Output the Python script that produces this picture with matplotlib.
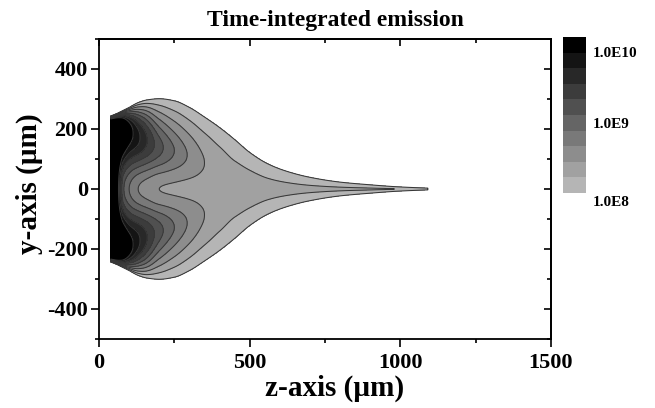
import numpy as np
import matplotlib
matplotlib.use("Agg")
import matplotlib.pyplot as plt
from matplotlib.colors import ListedColormap, BoundaryNorm
from matplotlib.ticker import MultipleLocator

plt.rcParams['font.family'] = ['Liberation Serif', 'DejaVu Serif']
plt.rcParams['font.weight'] = 'bold'
plt.rcParams['axes.unicode_minus'] = False

# ---- data (log10 of emission) ----
z_st = [38, 60, 70, 80, 100, 130, 160, 200, 250, 300, 350, 400, 450, 500,
        560, 620, 700, 800, 900, 980, 1040, 1092, 1130]
axis_log = [10.3, 10.0, 9.5, 9.05, 8.8, 8.6, 8.5, 8.4, 8.37, 8.35, 8.33, 8.30,
            8.27, 8.25, 8.228, 8.218, 8.211, 8.207, 8.204, 8.2, 8.12, 8.0, 7.85]
lobe_excess = [0.5, 0.6, 0.95, 1.25, 1.15, 1.05, 0.9, 0.68, 0.43, 0.22, 0.07,
               0.01, 0, 0, 0, 0, 0, 0, 0, 0, 0, 0, 0]
lobe_y = [205, 203, 200, 198, 190, 172, 160, 142, 128, 110, 85, 45, 0, 0,
          0, 0, 0, 0, 0, 0, 0, 0, 0]
edge_y = [243, 252, 257, 262, 272, 288, 297, 301, 294, 272, 240, 205, 165, 122,
          84, 60, 39, 23, 14, 8, 5, 3, 2]
edge_power = [3.0, 2.8, 2.7, 2.5, 2.2, 1.8, 1.5, 1.2, 1.1, 1.2, 1.4, 1.7, 2.0,
              2.0, 2.0, 2.0, 2.0, 2.0, 2.0, 2.0, 2.0, 2.0, 2.0]
left_edge = 38
levels = [8.0, 8.2, 8.4, 8.6, 8.8, 9.0, 9.2, 9.4, 9.6, 9.8]
cbar_labels = ['1.0E10', '1.0E9', '1.0E8']


def pchip(xs, ys, x):
    xs = np.asarray(xs, float)
    ys = np.asarray(ys, float)
    n = len(xs)
    h = np.diff(xs)
    d = np.diff(ys) / h
    m = np.zeros(n)
    m[0], m[-1] = d[0], d[-1]
    for k in range(1, n - 1):
        if d[k - 1] * d[k] <= 0:
            m[k] = 0.0
        else:
            w1 = 2 * h[k] + h[k - 1]
            w2 = h[k] + 2 * h[k - 1]
            m[k] = (w1 + w2) / (w1 / d[k - 1] + w2 / d[k])
    xc = np.clip(x, xs[0], xs[-1])
    i = np.clip(np.searchsorted(xs, xc) - 1, 0, n - 2)
    t = (xc - xs[i]) / h[i]
    h00 = 2 * t**3 - 3 * t**2 + 1
    h10 = t**3 - 2 * t**2 + t
    h01 = -2 * t**3 + 3 * t**2
    h11 = t**3 - t**2
    return h00 * ys[i] + h10 * h[i] * m[i] + h01 * ys[i + 1] + h11 * h[i] * m[i + 1]


z = np.linspace(0, 1200, 1201)
y = np.linspace(-340, 340, 681)
Z, Y = np.meshgrid(z, y)

a = pchip(z_st, axis_log, z)[None, :]
p = a + pchip(z_st, lobe_excess, z)[None, :]
yc = np.maximum(pchip(z_st, lobe_y, z), 1e-6)[None, :]
e = pchip(z_st, edge_y, z)[None, :]
nn = pchip(z_st, edge_power, z)[None, :]

ay = np.abs(Y)
inner = a + (p - a) * (1 - np.cos(np.pi * np.clip(ay / yc, 0, 1))) / 2
u = np.clip((ay - yc) / np.maximum(e - yc, 1e-6), 0, None)
dd = 0.15
s = ((np.sqrt(u**2 + dd**2) - dd) / (np.sqrt(1 + dd**2) - dd)) ** nn
drop = np.where(p > 8.0, p - 8.0, 1.0)
outer = p - drop * s
L = np.where(ay <= yc, inner, outer)
L = np.where(Z < left_edge, np.nan, L)
L = np.ma.masked_invalid(L)

grays = np.linspace(0.71, 0.0, 10)
cmap = ListedColormap([str(g) for g in grays])
bounds = levels + [14.0]
norm = BoundaryNorm(bounds, cmap.N)

fig = plt.figure(figsize=(6.55, 4.08), dpi=100)
ax = fig.add_axes([99 / 655, 1 - 339 / 408, 452 / 655, 300 / 408])
cf = ax.contourf(Z, Y, L, levels=bounds, cmap=cmap, norm=norm)
ax.contour(Z, Y, L, levels=levels, colors='#383838', linewidths=0.75)

ax.set_xlim(0, 1500)
ax.set_ylim(-500, 500)
ax.set_xticks([0, 500, 1000, 1500])
ax.set_yticks([-400, -200, 0, 200, 400])
ax.xaxis.set_minor_locator(MultipleLocator(250))
ax.yaxis.set_minor_locator(MultipleLocator(100))
ax.tick_params(which='major', direction='out', length=6, width=1.2,
               labelsize=16, pad=2)
ax.tick_params(which='minor', direction='out', length=3, width=1.2)
ax.tick_params(axis='x', which='major', pad=4)
for sp in ax.spines.values():
    sp.set_linewidth(1.3)

top = ax.secondary_xaxis('top')
top.set_xticks([0, 500, 1000, 1500])
top.xaxis.set_minor_locator(MultipleLocator(250))
top.tick_params(which='major', direction='in', length=5, width=1.2, labeltop=False)
top.tick_params(which='minor', direction='in', length=3, width=1.2)
top.spines['top'].set_linewidth(1.3)
right = ax.secondary_yaxis('right')
right.set_yticks([-400, -200, 0, 200, 400])
right.yaxis.set_minor_locator(MultipleLocator(100))
right.tick_params(which='major', direction='in', length=5, width=1.2, labelright=False)
right.tick_params(which='minor', direction='in', length=3, width=1.2)
right.spines['right'].set_linewidth(1.3)

fig.text(335 / 655, 1 - 396 / 408, 'z-axis (µm)', ha='center', va='baseline',
         fontsize=21, fontweight='bold')
fig.text(29 / 655, 1 - 184 / 408, 'y-axis (µm)', ha='center', va='center',
         rotation=90, fontsize=21, fontweight='bold')
fig.text(335 / 655, 1 - 26 / 408, 'Time-integrated emission', ha='center',
         va='baseline', fontsize=17, fontweight='bold')

cax = fig.add_axes([563 / 655, 1 - 193 / 408, 23 / 655, 156 / 408])
cb = fig.colorbar(cf, cax=cax, spacing='uniform')
cb.outline.set_linewidth(0)
cb.set_ticks([])
cb.minorticks_off()
cax.tick_params(which='both', length=0, labelright=False)
for lab, fy in zip(cbar_labels, [0.897, 0.442, -0.064]):
    cax.text(1.3, fy, lab, transform=cax.transAxes, va='center', ha='left',
             fontsize=11, fontweight='bold')

fig.savefig('out.png', dpi=100)
